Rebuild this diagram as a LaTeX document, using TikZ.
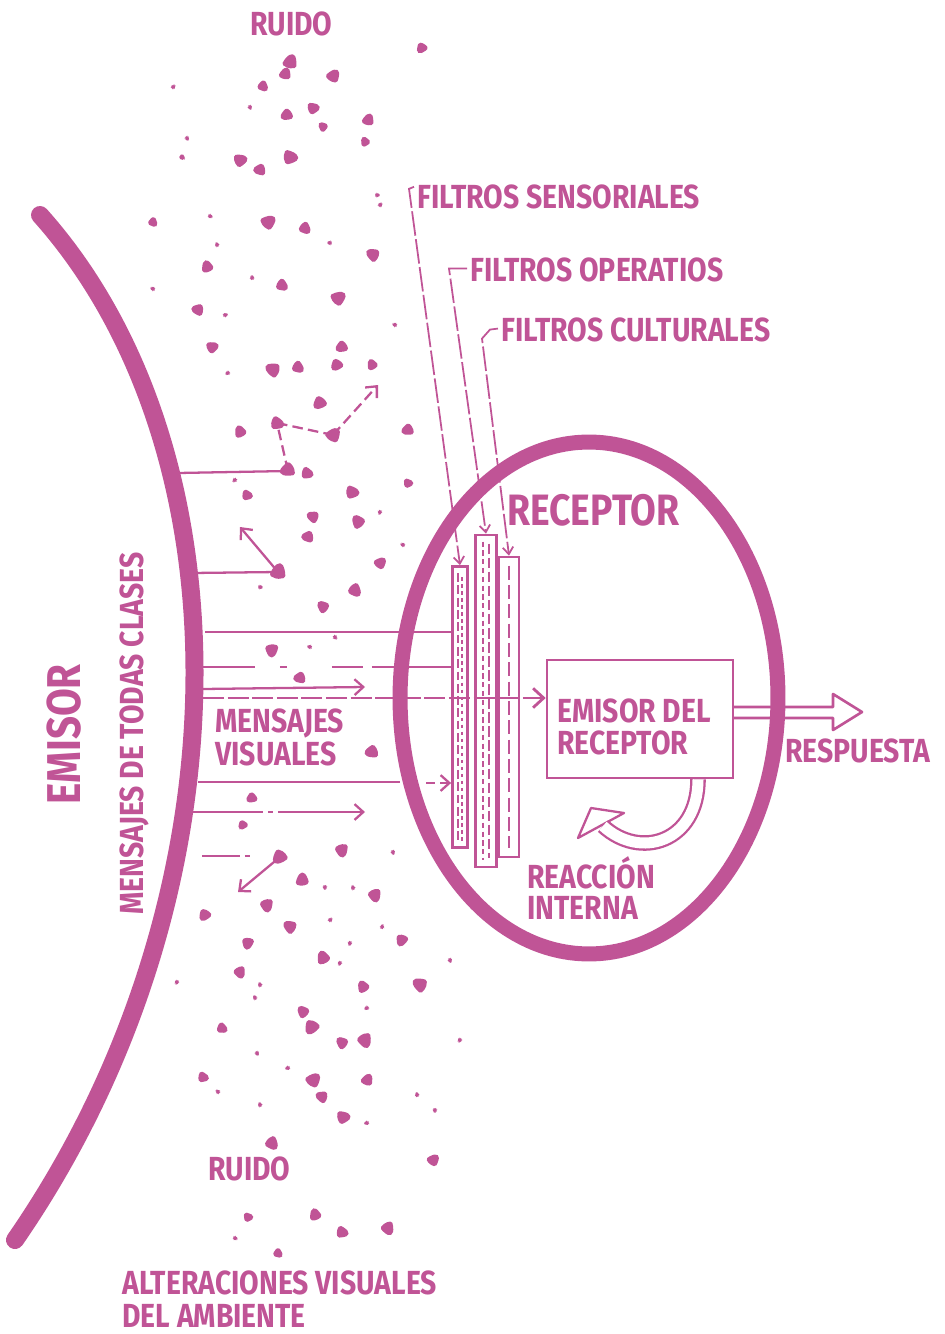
\documentclass[tikz,border=0pt]{standalone}
\usepackage{fontspec}
\setmainfont{Fira Sans}[FakeStretch=0.85]
\usetikzlibrary{arrows.meta, positioning, calc, shapes.geometric}
\definecolor{inkpink}{RGB}{192,84,150}

\begin{document}
\begin{tikzpicture}[
    x=0.02cm, y=-0.02cm,
    lbl/.style={text=inkpink,font=\fontsize{19}{17}\selectfont\bfseries,inner sep=0pt,anchor=base west,
                text height=13pt,text depth=0pt},
    msg/.style={draw=inkpink,line width=1.3pt},
    arr/.style={-{Straight Barb[length=5pt,width=9pt]}},
    lead/.style={draw=inkpink,line width=1pt,dash pattern=on 14pt off 2pt,-{Straight Barb[length=4pt,width=6pt]}},
    filt/.style={draw=inkpink,fill=white,line width=1.6pt,inner sep=0pt}
]
  \useasboundingbox (0,0) rectangle (945,1334);

  % noise
  \foreach \x/\y/\s in {290/62/6, 285/74/5, 333/76/5.5, 263/86/4.5, 173/87/2, 250/107/2, 287/115/5,
      313/108/5, 323/127/4, 368/120/5, 365/142/4, 187/138/2, 182/157/2.5, 240/160/5.5, 260/170/5,
      290/157/6, 422/48/4.5, 153/222/4, 210/216/2, 268/222/6, 305/228/5, 330/243/2, 373/255/5.5,
      217/245/2, 207/267/5, 252/278/2, 282/285/5, 338/298/6, 153/289/2, 198/310/5, 225/315/2,
      212/347/5, 342/347/5, 395/325/2, 377/195/2, 380/205/2,
      273/370/6, 298/367/5, 337/365/5, 372/365/4.5, 228/373/2, 320/403/5.5, 240/432/5, 277/423/5.5,
      333/435/6, 408/430/5, 288/470/6, 307/473/5, 352/492/5.5, 247/495/4.5, 408/483/4, 313/517/5,
      358/522/5.5, 308/537/5, 278/572/6.5, 380/563/5, 355/590/5.5, 323/607/5, 235/480/2, 260/587/2,
      380/512/2, 403/545/2, 272/650/5.5, 300/678/5, 372/752/5.5, 252/798/4.5, 243/825/4, 342/850/5.5,
      335/637/2, 310/647/2,
      280/857/6, 302/880/5.5, 393/852/2, 325/887/2, 375/895/5.5, 267/905/5.5, 205/915/5, 290/927/5.5,
      248/943/5, 402/940/5, 323/958/5.5, 240/972/5, 420/985/6, 363/987/5, 303/1012/5, 312/1027/6,
      222/1028/4.5, 342/1043/5, 365/1040/6, 203/1077/4.5, 313/1080/6, 367/1080/5, 322/1097/5,
      343/1117/5.5, 272/1143/5.5, 433/1160/5, 315/1215/5, 248/1217/4, 342/1232/5, 388/1228/5.5,
      235/1238/2, 278/1253/4, 460/1040/2, 450/960/2, 417/1095/2, 435/1110/2, 367/1123/2, 260/1105/2,
      288/1068/2, 218/1092/2, 257/1053/2, 255/998/2, 260/985/2, 177/982/2, 367/1008/2, 330/920/2,
      353/888/2, 350/943/2, 340/963/2, 382/927/2}
  {
    \begin{scope}[shift={(\x,\y)},rotate={mod(\x*7+\y*3,360)}]
      \fill[inkpink,rounded corners=1pt] (0:{1.45*\s}) -- (50:{1.1*\s}) -- (100:{1.45*\s}) -- (160:{1.1*\s})
        -- (220:{1.45*\s}) -- (280:{1.0*\s}) -- (330:{1.35*\s}) -- cycle;
    \end{scope}
  }

  % filters
  \node[filt,minimum width=0.3cm,minimum height=5.62cm] (fsens) at (460,707) {};
  \node[filt,minimum width=0.42cm,minimum height=6.64cm] (foper) at (486,701) {};
  \node[filt,minimum width=0.4cm,minimum height=6.0cm] (fcult) at (509,707) {};
  \draw[inkpink,line width=1.4pt,dash pattern=on 5pt off 2pt] ($(fsens.north)+(-2,8)$) -- ($(fsens.south)+(-2,-8)$);
  \draw[inkpink,line width=1.4pt,dash pattern=on 2pt off 2pt] ($(fsens.north)+(2,12)$) -- ($(fsens.south)+(2,-8)$);
  \draw[inkpink,line width=1.4pt,dash pattern=on 3pt off 2pt] ($(foper.north)+(-3,8)$) -- ($(foper.south)+(-3,-8)$);
  \draw[inkpink,line width=1.4pt,dash pattern=on 6pt off 2pt] ($(foper.north)+(3,10)$) -- ($(foper.south)+(3,-10)$);
  \draw[inkpink,line width=0.8pt,dash pattern=on 8pt off 3pt] ($(fcult.north)+(0,10)$) -- ($(fcult.south)+(0,-10)$);

  % messages from the emisor
  \coordinate (m1) at (178,473);  \coordinate (n1) at (288,471);
  \coordinate (m2) at (192,573);  \coordinate (n2) at (278,572);
  \coordinate (m3) at (205,632);  \coordinate (m4) at (203,667);
  \coordinate (m5) at (203,689);  \coordinate (m6) at (203,698);
  \coordinate (m7) at (198,782);  \coordinate (m8) at (193,812);
  \coordinate (m9) at (202,856);  \coordinate (n9) at (280,857);
  \coordinate (n0) at (277,423);  \coordinate (n3) at (333,435);
  \coordinate (t2) at (240,527);  \coordinate (t3) at (378,385);
  \coordinate (t5) at (365,687);  \coordinate (t8) at (365,812);
  \coordinate (t9) at (238,892);  \coordinate (e7) at (400,782);
  \coordinate (e9) at (250,856);  \coordinate (i7) at (426,783);

  \draw[msg] (m1) -- (n1);
  \draw[msg,dash pattern=on 6pt off 3pt] (n1) -- (n0);
  \draw[msg,dash pattern=on 6pt off 3pt] (n0) -- (n3);
  \draw[msg,arr,dash pattern=on 6pt off 3pt] (n3) -- (t3);
  \draw[msg] (m2) -- (n2);
  \draw[msg,arr] (n2) -- (t2);
  \draw[msg] (m3) -- (m3 -| fsens.west);
  \draw[msg,dash pattern=on 1.04cm off 0.5cm on 0.14cm off 0.9cm on 0.62cm off 0.18cm on 4cm] (m4) -- (m4 -| fsens.west);
  \draw[msg,arr] (m5) -- (t5);
  \draw[msg] (m7) -- (e7);
  \draw[msg,arr,dash pattern=on 5pt off 3pt] (i7) -- (i7 -| fsens.west);
  \draw[msg,arr,dash pattern=on 1.4cm off 0.1cm on 0.1cm off 0.1cm on 5cm] (m8) -- (t8);
  \draw[msg,dash pattern=on 0.76cm off 0.1cm on 0.1cm off 1cm] (m9) -- (e9);
  \draw[msg,arr] (n9) -- (t9);

  % labels of the filters
  \node[lbl] (lsens) at (417,209) {FILTROS SENSORIALES};
  \node[lbl] (loper) at (470,282) {FILTROS OPERATIOS};
  \node[lbl] (lcult) at (501,342) {FILTROS CULTURALES};
  \draw[lead] ($(lsens.north west)+(-3,1)$) -- ++(-5,2) -- (fsens.north);
  \draw[lead] ($(loper.west)+(-3,-2)$) -- ++(-18,0) -- (foper.north);
  \draw[lead] ($(lcult.west)+(-3,-2)$) -- ++(-8,1) -- ++(-8,9) -- (fcult.north);

  % emisor
  \coordinate (etop) at (40,215);
  \coordinate (ebot) at (15,1240);
  \draw[inkpink,line width=0.36cm,line cap=round] (etop) .. controls (250,450) and (250,900) .. (ebot);

  % box and answer
  \coordinate (resp) at (862,712);
  \draw[inkpink,line width=1.5pt,fill=white,line join=round]
    (733,707) -- (833,707) -- (833,694) -- (resp) -- (833,730) -- (833,718) -- (733,718);
  \node[draw=inkpink,line width=1.5pt,minimum width=3.72cm,minimum height=2.36cm,inner sep=0pt] (emrec) at (640,719) {};
  \draw[msg,line width=1.6pt,-{Straight Barb[length=6pt,width=11pt]},dash pattern=on 12pt off 2pt] (m6) -- (m6 -| emrec.west);

  % receptor
  \node[draw=inkpink,line width=0.3cm,ellipse,minimum width=7.56cm,minimum height=10.24cm,inner sep=0pt] (recep) at (589,698) {};

  % internal reaction
  \coordinate (rtip) at (591,808);
  \coordinate (rend) at (603,826);
  \draw[inkpink,line width=1.3pt,fill=white,line join=round] (rtip) -- (624,813) -- (578,838) -- cycle;
  \draw[inkpink,double=white,double distance=0.22cm,line width=1.3pt]
    ($(emrec.south)+(58,0)$) .. controls +(0,63) and (640,860) .. (rend);

  % texts
  \node[lbl] (ruido1) at (250,36) {RUIDO};
  \node[lbl,font=\fontsize{25}{25}\selectfont\bfseries,text height=17pt] (lrecep) at (507,525) {RECEPTOR};
  \node[lbl] (emrec1) at (557,722) {EMISOR DEL};
  \node[lbl] (emrec2) at (557,754) {RECEPTOR};
  \node[lbl] (lmens1) at (215,732) {MENSAJES};
  \node[lbl] (lmens2) at (215,765) {VISUALES};
  \node[lbl] (lresp) at (785,762) {RESPUESTA};
  \node[lbl] (lreac1) at (527,888) {REACCIÓN};
  \node[lbl] (lreac2) at (527,919) {INTERNA};
  \node[lbl] (ruido2) at (208,1180) {RUIDO};
  \node[lbl] (lalt1) at (122,1294) {ALTERACIONES VISUALES};
  \node[lbl] (lalt2) at (122,1327) {DEL AMBIENTE};
  \node[lbl,rotate=90,font=\fontsize{27}{27}\selectfont\bfseries,text height=19pt] (lemisor) at (80,805) {EMISOR};
  \node[lbl,rotate=90] (ltodas) at (143,915) {MENSAJES DE TODAS CLASES};
\end{tikzpicture}
\end{document}
